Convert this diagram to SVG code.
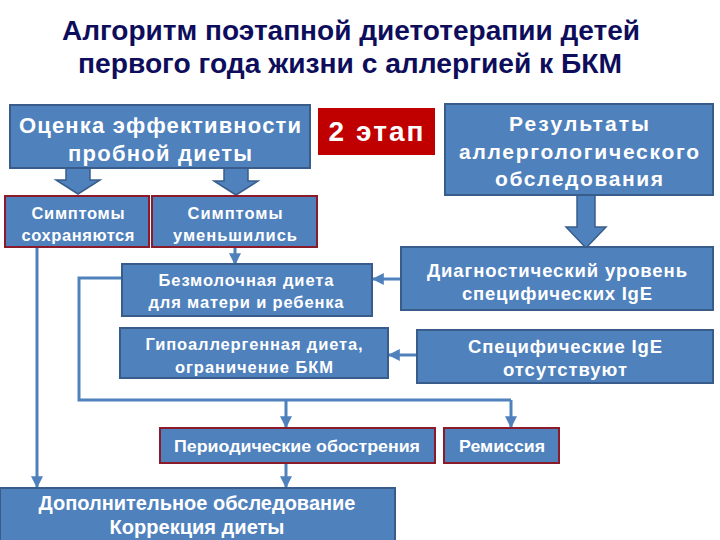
<svg xmlns="http://www.w3.org/2000/svg" width="720" height="540" viewBox="0 0 720 540">
<defs>
<marker id="ah" viewBox="0 0 10 10" refX="9" refY="5" markerWidth="4" markerHeight="4" orient="auto" markerUnits="strokeWidth">
<path d="M0,0 L10,5 L0,10 z" fill="#4f81bd"/>
</marker>
<style>
.box{fill:#4f81bd;stroke:#385d8a;stroke-width:2}
.rbox{fill:#4f81bd;stroke:#8b1a2b;stroke-width:2}
.red{fill:#c00000}
.t{font-family:"Liberation Sans",Arial,sans-serif;font-weight:bold;fill:#ffffff;text-anchor:middle}
.title{font-family:"Liberation Sans",Arial,sans-serif;font-weight:bold;fill:#0d0d5c;text-anchor:middle;font-size:27px}
.ln{fill:none;stroke:#4f81bd;stroke-width:3}
.blk{fill:#4f81bd;stroke:#385d8a;stroke-width:1.5}
</style>
</defs>
<rect width="720" height="540" fill="#ffffff"/>
<g id="title">
<text class="title" x="351" y="40" textLength="578" lengthAdjust="spacingAndGlyphs">Алгоритм поэтапной диетотерапии детей</text>
<text class="title" x="350" y="73" textLength="544" lengthAdjust="spacingAndGlyphs">первого года жизни с аллергией к БКМ</text>
</g>
<g id="connectors">
<polygon class="blk" points="66,168 90,168 90,180 100,180 78,194 56,180 66,180"/>
<polygon class="blk" points="224,168 248,168 248,181 258,181 236,195 214,181 224,181"/>
<polygon class="blk" points="577,195 595,195 595,227 606,227 586,248 566,227 577,227"/>
<line class="ln" x1="235" y1="247" x2="235" y2="264" marker-end="url(#ah)"/>
<line class="ln" x1="401" y1="279" x2="373" y2="279" marker-end="url(#ah)"/>
<line class="ln" x1="417" y1="355" x2="389" y2="355" marker-end="url(#ah)"/>
<line class="ln" x1="37" y1="247" x2="37" y2="487" marker-end="url(#ah)"/>
<polyline class="ln" points="122,278 79,278 79,400 511,400"/>
<line class="ln" x1="286" y1="400" x2="286" y2="427" marker-end="url(#ah)"/>
<line class="ln" x1="511" y1="400" x2="511" y2="427" marker-end="url(#ah)"/>
<line class="ln" x1="286" y1="463" x2="286" y2="487" marker-end="url(#ah)"/>
</g>
<g id="n-ocenka">
<rect class="box" x="10" y="105" width="300" height="63"/>
<text class="t" x="160" y="133" font-size="22" textLength="282" lengthAdjust="spacing">Оценка эффективности</text>
<text class="t" x="160" y="161" font-size="22" textLength="184" lengthAdjust="spacing">пробной диеты</text>
</g>
<g id="n-etap">
<rect class="red" x="318" y="108" width="117" height="47"/>
<text class="t" x="376" y="141" font-size="28" textLength="95" lengthAdjust="spacing">2 этап</text>
</g>
<g id="n-results">
<rect class="box" x="445" y="104" width="268" height="91"/>
<text class="t" x="579" y="131" font-size="21" textLength="140" lengthAdjust="spacing">Результаты</text>
<text class="t" x="579" y="159" font-size="21" textLength="240" lengthAdjust="spacing">аллергологического</text>
<text class="t" x="579" y="186" font-size="21" textLength="168" lengthAdjust="spacing">обследования</text>
</g>
<g id="n-sohr">
<rect class="rbox" x="5" y="196" width="144" height="51"/>
<text class="t" x="78" y="219" font-size="16.5" textLength="93" lengthAdjust="spacing">Симптомы</text>
<text class="t" x="78" y="241" font-size="16.5" textLength="113" lengthAdjust="spacing">сохраняются</text>
</g>
<g id="n-umen">
<rect class="rbox" x="152" y="196" width="165" height="51"/>
<text class="t" x="235" y="219" font-size="16.5" textLength="95" lengthAdjust="spacing">Симптомы</text>
<text class="t" x="235" y="241" font-size="16.5" textLength="124" lengthAdjust="spacing">уменьшились</text>
</g>
<g id="n-bezmol">
<rect class="box" x="122" y="264" width="250" height="52"/>
<text class="t" x="246" y="286" font-size="16.5" textLength="175" lengthAdjust="spacing">Безмолочная диета</text>
<text class="t" x="246" y="308" font-size="16.5" textLength="195" lengthAdjust="spacing">для матери и ребенка</text>
</g>
<g id="n-gipo">
<rect class="box" x="120" y="328" width="268" height="50"/>
<text class="t" x="254" y="350" font-size="16.5" textLength="217" lengthAdjust="spacing">Гипоаллергенная диета,</text>
<text class="t" x="254" y="373" font-size="16.5" textLength="158" lengthAdjust="spacing">ограничение БКМ</text>
</g>
<g id="n-diag">
<rect class="box" x="401" y="247" width="312" height="63"/>
<text class="t" x="557" y="277" font-size="18.5" textLength="260" lengthAdjust="spacing">Диагностический уровень</text>
<text class="t" x="557" y="300" font-size="18.5" textLength="190" lengthAdjust="spacing">специфических IgE</text>
</g>
<g id="n-spec">
<rect class="box" x="417" y="330" width="296" height="53"/>
<text class="t" x="565" y="353" font-size="18.5" textLength="194" lengthAdjust="spacing">Специфические IgE</text>
<text class="t" x="565" y="376" font-size="18.5" textLength="124" lengthAdjust="spacing">отсутствуют</text>
</g>
<g id="n-period">
<rect class="rbox" x="160" y="428" width="275" height="35"/>
<text class="t" x="297" y="452" font-size="17" textLength="246" lengthAdjust="spacingAndGlyphs">Периодические обострения</text>
</g>
<g id="n-remis">
<rect class="rbox" x="444" y="428" width="115" height="35"/>
<text class="t" x="502" y="452" font-size="17" textLength="86" lengthAdjust="spacingAndGlyphs">Ремиссия</text>
</g>
<g id="n-dop">
<rect class="box" x="0" y="488" width="395" height="54"/>
<text class="t" x="197" y="510" font-size="20" textLength="317" lengthAdjust="spacingAndGlyphs">Дополнительное обследование</text>
<text class="t" x="197" y="534" font-size="20" textLength="175" lengthAdjust="spacingAndGlyphs">Коррекция диеты</text>
</g>
</svg>
